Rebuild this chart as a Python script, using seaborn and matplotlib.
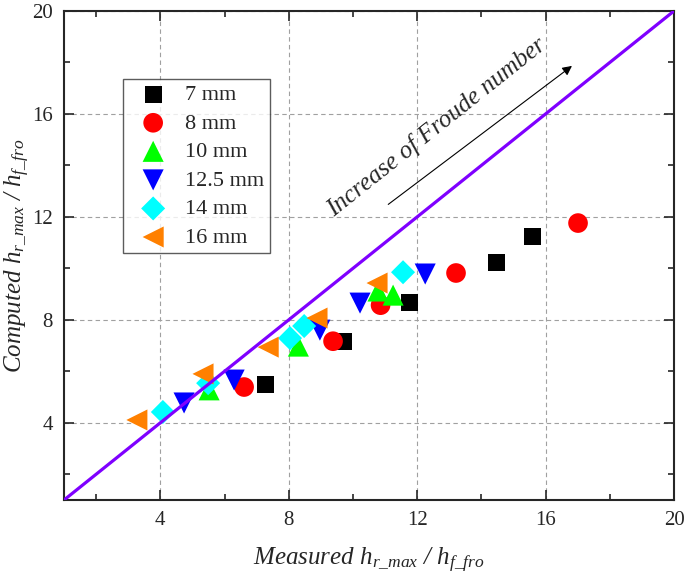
import numpy as np
import matplotlib
matplotlib.use("Agg")
import matplotlib.pyplot as plt
import seaborn as sns

# donnees
labels = ["7 mm", "8 mm", "10 mm", "12.5 mm", "14 mm", "16 mm"]
x_7 = [7.29, 9.72, 11.75, 14.46, 15.58]
y_7 = [5.47, 7.15, 8.69, 10.24, 11.25]
x_8 = [6.61, 9.38, 10.86, 13.21, 17.01]
y_8 = [5.39, 7.17, 8.57, 9.82, 11.76]
x_10 = [5.52, 8.30, 10.78, 11.25]
y_10 = [5.28, 6.98, 9.12, 8.96]
x_125 = [4.74, 6.30, 8.97, 10.22, 12.25]
y_125 = [4.77, 5.66, 7.60, 8.65, 9.78]
x_14 = [4.08, 5.49, 8.04, 8.48, 11.56]
y_14 = [4.42, 5.54, 7.29, 7.76, 9.85]
x_16 = [3.27, 5.33, 7.36, 8.88, 10.75]
y_16 = [4.11, 5.90, 6.94, 8.07, 9.43]

xs = [x_7, x_8, x_10, x_125, x_14, x_16]
ys = [y_7, y_8, y_10, y_125, y_14, y_16]
markers = ["s", "o", "^", "v", "D", "<"]
colors = ["#000000", "#FF0000", "#00FF00", "#0000FF", "#00FFFF", "#FF8000"]
sizes = [150, 200, 230, 230, 150, 230]

ticks = [4, 8, 12, 16, 20]

sns.set_style("ticks")
plt.rcParams["font.family"] = "serif"
plt.rcParams["font.serif"] = ["Liberation Serif", "DejaVu Serif"]
plt.rcParams["mathtext.fontset"] = "custom"
plt.rcParams["mathtext.it"] = "Liberation Serif:italic"
plt.rcParams["mathtext.rm"] = "Liberation Serif"

fig = plt.figure(figsize=(6.85, 5.77), dpi=100)
ax = fig.add_axes([0.0934, 0.1334, 0.8906, 0.8476])

for x, y, m, c, s, lab in zip(xs, ys, markers, colors, sizes, labels):
    sns.scatterplot(x=x, y=y, marker=m, color=c, s=s, edgecolor="none",
                    label=lab, ax=ax, zorder=3)

# ligne 1:1
ax.plot([1, 20], [1, 20], color="#7F00FF", lw=2.3, zorder=4)

ax.set_xlim(1, 20)
ax.set_ylim(1, 20)
ax.set_xticks(ticks)
ax.set_yticks(ticks)
ax.set_xticks([2, 6, 10, 14, 18], minor=True)
ax.set_yticks([2, 6, 10, 14, 18], minor=True)
ax.tick_params(which="both", direction="in", top=True, right=True, labelsize=15, width=1.2)
ax.tick_params(which="major", length=7, pad=8)
ax.tick_params(which="minor", length=4)
for sp in ax.spines.values():
    sp.set_linewidth(1.5)
ax.grid(True, which="major", ls=(0, (4, 3)), color="#A0A0A0", lw=0.8, zorder=0)
ax.set_axisbelow(True)

ax.set_xlabel(r"Measured $h_{r\_max}$ / $h_{f\_fro}$", fontsize=18, style="italic", labelpad=11)
ax.set_ylabel(r"Computed $h_{r\_max}$ / $h_{f\_fro}$", fontsize=18, style="italic")
ax.yaxis.set_label_coords(-0.052, 0.5)

# annotation
ax.annotate("", xy=(16.89, 17.93), xytext=(11.03, 12.42),
            arrowprops=dict(arrowstyle="-|>", color="black", lw=0.8, mutation_scale=14))
ax.text(12.62, 15.5, "Increase of Froude number", rotation=38.5, fontsize=18,
        style="italic", ha="center", va="center", rotation_mode="anchor")

leg = ax.legend(loc="upper left", bbox_to_anchor=(0.097, 0.861), borderaxespad=0,
                fontsize=16, frameon=True, fancybox=False, edgecolor="#333333",
                handletextpad=0.34, labelspacing=0.36, borderpad=0.25, handlelength=2.2)
leg.get_frame().set_linewidth(1.0)

fig.savefig("out.png", dpi=100)
